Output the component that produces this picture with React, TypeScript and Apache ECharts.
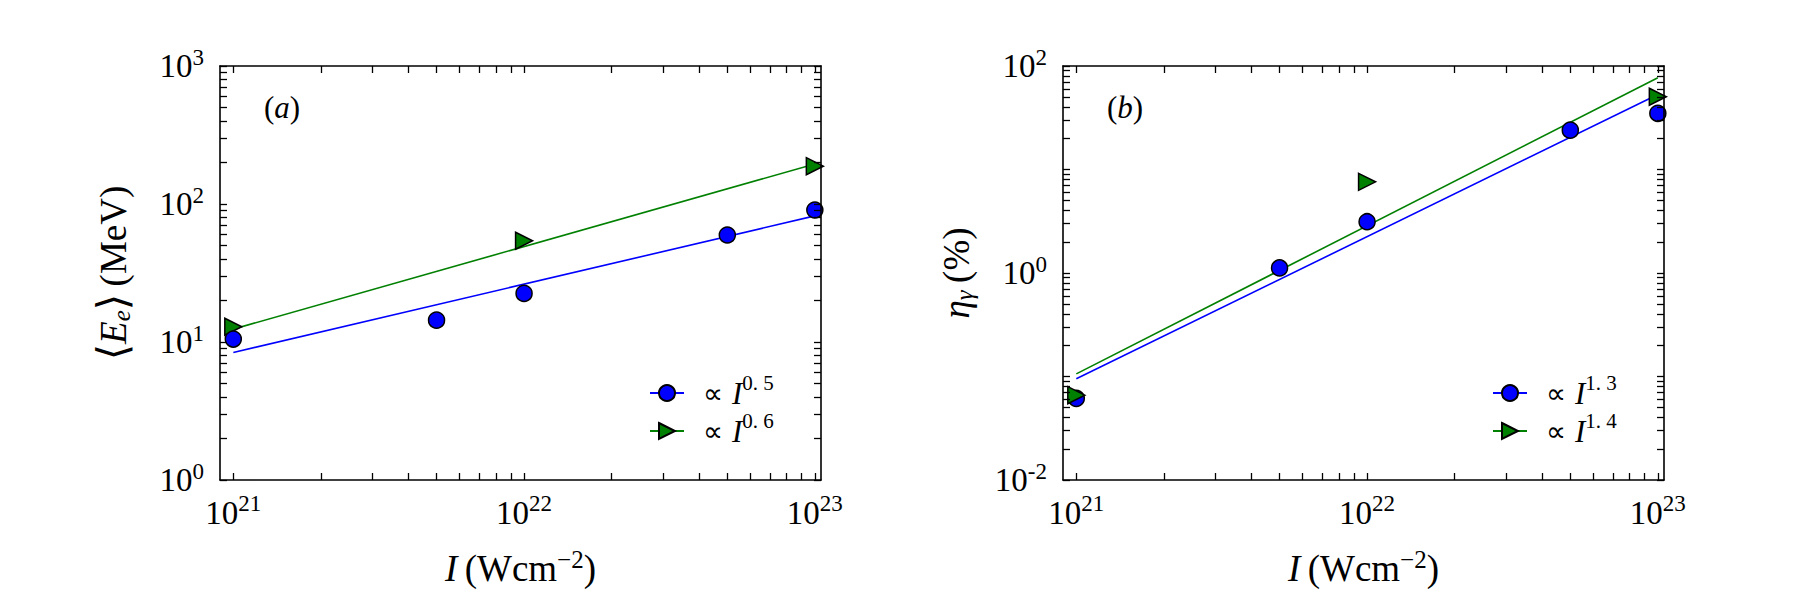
import { useEffect, useRef } from "react";
import * as echarts from "echarts";

// ---------------- data ----------------
const intensity = [1e21, 5e21, 1e22, 5e22, 1e23];
const triangleIntensity = [1e21, 1e22, 1e23];
const fitIntensity = [1e21, 1e23];

// panel (a): mean electron energy <E_e> (MeV)
const energyCircles = [10.5, 14.4, 22.5, 59.6, 90.5];
const energyTriangles = [12.9, 54.2, 188];
const energyFitBlue = [8.4, 82];
const energyFitGreen = [12.4, 195];

// panel (b): conversion efficiency eta_gamma (%)
const etaCircles = [0.0615, 1.12, 3.13, 24, 34.9];
const etaTriangles = [0.066, 7.6, 50.5];
const etaFitBlue = [0.095, 53];
const etaFitGreen = [0.106, 77];

// tick labels
const xLabelValues = [1e21, 1e22, 1e23];
const xLabelExponents = ["21", "22", "23"];
const yLabelValuesA = [1, 10, 100, 1000];
const yLabelExponentsA = ["0", "1", "2", "3"];
const yLabelValuesB = [0.01, 1, 100];
const yLabelExponentsB = ["-2", "0", "2"];

// legend texts
const legendNamesA = ["a1", "a2"];
const legendExponentsA = ["0.5", "0.6"];
const legendNamesB = ["b1", "b2"];
const legendExponentsB = ["1.3", "1.4"];
const panelTags = ["a", "b"];

// log tick positions: 1..9 x 10^e for each decade, plus the closing power
function logTicks(lowExp: number, highExp: number): number[] {
  const out: number[] = [];
  for (let e = lowExp; e < highExp; e++) {
    for (let m = 1; m <= 9; m++) out.push(parseFloat((m * Math.pow(10, e)).toPrecision(6)));
  }
  out.push(Math.pow(10, highExp));
  return out;
}
const xTickValues = logTicks(21, 23);
const yTickValuesA = logTicks(0, 3);
const yTickValuesB = logTicks(-2, 2);

// ---------------- styling ----------------
const SERIF = "'Liberation Serif', 'DejaVu Serif', serif";
const BLACK = "#000000";
const BLUE = "#0000ff";
const GREEN = "#008000";
const TRIANGLE = "path://M0,0L2,1L0,2Z";

const X_MIN = 9e20;
const X_MAX = 1.05e23;

const tickRich = {
  b: { fontFamily: SERIF, fontSize: 33, lineHeight: 41, color: BLACK },
  s: { fontFamily: SERIF, fontSize: 23, lineHeight: 23, verticalAlign: "top", color: BLACK },
};

const nameRich = {
  n: { fontFamily: SERIF, fontSize: 37, lineHeight: 42, color: BLACK },
  br: { fontFamily: SERIF, fontSize: 42, lineHeight: 42, color: BLACK },
  i: { fontFamily: SERIF, fontSize: 37, lineHeight: 42, fontStyle: "italic", color: BLACK },
  s: { fontFamily: SERIF, fontSize: 25, lineHeight: 26, verticalAlign: "top", color: BLACK },
  u: { fontFamily: SERIF, fontSize: 25, lineHeight: 26, verticalAlign: "bottom", fontStyle: "italic", color: BLACK },
};

const legendRich = {
  p: { fontFamily: "'DejaVu Sans', sans-serif", fontSize: 28, lineHeight: 42, color: BLACK, padding: [0, 0, 0, 14] },
  i: { fontFamily: SERIF, fontSize: 31, lineHeight: 42, fontStyle: "italic", color: BLACK },
  s: { fontFamily: SERIF, fontSize: 21, lineHeight: 21, verticalAlign: "top", color: BLACK },
};

const tagRich = {
  n: { fontFamily: SERIF, fontSize: 31, lineHeight: 36, color: BLACK },
  i: { fontFamily: SERIF, fontSize: 31, lineHeight: 36, fontStyle: "italic", color: BLACK },
};

function powerFormatter(values: number[], exps: string[]) {
  return (v: number) => {
    const i = values.findIndex((x) => Math.abs(Math.log10(x) - Math.log10(v)) < 1e-6);
    return i < 0 ? "" : `{b|10}{s|${exps[i]}}`;
  };
}

function xAxisDef(grid: number, position: "bottom" | "top", withLabels: boolean, name?: string) {
  return {
    type: "log",
    logBase: 10,
    gridIndex: grid,
    position,
    min: X_MIN,
    max: X_MAX,
    axisLine: { show: true, onZero: false, lineStyle: { color: BLACK, width: 1.6 } },
    axisTick: { show: true, inside: true, length: 7, lineStyle: { color: BLACK, width: 1.3 }, customValues: xTickValues },
    minorTick: { show: false },
    splitLine: { show: false },
    minorSplitLine: { show: false },
    axisLabel: withLabels
      ? { show: true, customValues: xLabelValues, formatter: powerFormatter(xLabelValues, xLabelExponents), margin: 12, rich: tickRich, color: BLACK }
      : { show: false },
    name: name || "",
    nameLocation: "middle",
    nameGap: 67,
    nameTextStyle: { rich: nameRich, color: BLACK },
    silent: true,
    z: 10,
  };
}

function yAxisDef(grid: number, position: "left" | "right", min: number, max: number, ticks: number[], labelValues: number[] | null, labelExps: string[] | null, name?: string) {
  return {
    type: "log",
    logBase: 10,
    gridIndex: grid,
    position,
    min,
    max,
    axisLine: { show: true, onZero: false, lineStyle: { color: BLACK, width: 1.6 } },
    axisTick: { show: true, inside: true, length: 7, lineStyle: { color: BLACK, width: 1.3 }, customValues: ticks },
    minorTick: { show: false },
    splitLine: { show: false },
    minorSplitLine: { show: false },
    axisLabel: labelValues && labelExps
      ? { show: true, customValues: labelValues, formatter: powerFormatter(labelValues, labelExps), margin: 16, rich: tickRich, color: BLACK }
      : { show: false },
    name: name || "",
    nameLocation: "middle",
    nameRotate: 90,
    nameGap: 86,
    nameTextStyle: { rich: nameRich, color: BLACK },
    silent: true,
    z: 10,
  };
}

function pairs(xs: number[], ys: number[]) {
  return xs.map((x, i) => [x, ys[i]]);
}

function fitSeries(name: string, xAxis: number, yAxis: number, xs: number[], ys: number[], color: string, symbol: string) {
  return {
    type: "line",
    name,
    xAxisIndex: xAxis,
    yAxisIndex: yAxis,
    data: pairs(xs, ys),
    showSymbol: false,
    symbol,
    symbolSize: 16,
    lineStyle: { color, width: 1.6 },
    itemStyle: { color, borderColor: BLACK, borderWidth: 1.5 },
    z: 2,
    silent: true,
  };
}

function pointSeries(name: string, xAxis: number, yAxis: number, xs: number[], ys: number[], color: string, symbol: string, size: number, z: number) {
  return {
    type: "scatter",
    name,
    xAxisIndex: xAxis,
    yAxisIndex: yAxis,
    data: pairs(xs, ys),
    symbol,
    symbolSize: size,
    itemStyle: { color, borderColor: BLACK, borderWidth: 1.5, opacity: 1 },
    z,
    silent: true,
  };
}

function legendDef(name: string, exp: string, left: number, top: number) {
  const shown = exp.replace(".", ". ");
  return {
    show: true,
    data: [name],
    orient: "vertical",
    left,
    top,
    padding: 0,
    itemWidth: 34,
    itemHeight: 20,
    selectedMode: false,
    formatter: () => `{p|\u221d }{i|I}{s|${shown}}`,
    textStyle: { rich: legendRich, color: BLACK },
  };
}

function tagText(tag: string, x: number) {
  return {
    type: "text",
    x,
    y: 107,
    style: {
      text: `{n|(}{i|${tag}}{n|)}`,
      rich: tagRich,
      align: "left",
      verticalAlign: "middle",
      fill: BLACK,
    },
  };
}

const X_NAME = "{i|I}{n|\u2009(Wcm}{s|\u22122}{n|)}";
const Y_NAME_A = "{br|\u27e8}{i|E}{u|e}{br|\u27e9}{n|\u2009(MeV)}";
const Y_NAME_B = "{i|\u03b7}{u|\u03b3}{n|\u2009(%)}";

export default function App() {
  const ref = useRef<HTMLDivElement>(null);

  useEffect(() => {
    if (!ref.current) return;
    const chart = echarts.init(ref.current, null, { renderer: "svg" });

    const gridA = { left: 220, top: 66, width: 601, height: 414, show: false, containLabel: false, outerBoundsMode: "none" };
    const gridB = { left: 1063, top: 66, width: 601, height: 414, show: false, containLabel: false, outerBoundsMode: "none" };

    const option: any = {
      animation: false,
      backgroundColor: "#ffffff",
      textStyle: { fontFamily: SERIF },
      grid: [gridA, gridB],
      xAxis: [
        xAxisDef(0, "bottom", true, X_NAME),
        xAxisDef(0, "top", false),
        xAxisDef(1, "bottom", true, X_NAME),
        xAxisDef(1, "top", false),
      ],
      yAxis: [
        yAxisDef(0, "left", 1, 1000, yTickValuesA, yLabelValuesA, yLabelExponentsA, Y_NAME_A),
        yAxisDef(0, "right", 1, 1000, yTickValuesA, null, null),
        yAxisDef(1, "left", 0.01, 100, yTickValuesB, yLabelValuesB, yLabelExponentsB, Y_NAME_B),
        yAxisDef(1, "right", 0.01, 100, yTickValuesB, null, null),
      ],
      legend: [
        legendDef(legendNamesA[0], legendExponentsA[0], 649, 372),
        legendDef(legendNamesA[1], legendExponentsA[1], 649, 410),
        legendDef(legendNamesB[0], legendExponentsB[0], 1492, 372),
        legendDef(legendNamesB[1], legendExponentsB[1], 1492, 410),
      ],
      series: [
        fitSeries(legendNamesA[0], 0, 0, fitIntensity, energyFitBlue, BLUE, "circle"),
        fitSeries(legendNamesA[1], 0, 0, fitIntensity, energyFitGreen, GREEN, TRIANGLE),
        pointSeries("energyTriangles", 0, 0, triangleIntensity, energyTriangles, GREEN, TRIANGLE, 17, 3),
        pointSeries("energyCircles", 0, 0, intensity, energyCircles, BLUE, "circle", 16, 4),
        fitSeries(legendNamesB[0], 2, 2, fitIntensity, etaFitBlue, BLUE, "circle"),
        fitSeries(legendNamesB[1], 2, 2, fitIntensity, etaFitGreen, GREEN, TRIANGLE),
        pointSeries("etaCircles", 2, 2, intensity, etaCircles, BLUE, "circle", 16, 3),
        pointSeries("etaTriangles", 2, 2, triangleIntensity, etaTriangles, GREEN, TRIANGLE, 17, 4),
      ],
      graphic: [tagText(panelTags[0], 264), tagText(panelTags[1], 1107)],
    };

    chart.setOption(option);
    return () => chart.dispose();
  }, []);

  return <div ref={ref} style={{ position: "absolute", left: 0, top: 0, width: 1800, height: 600 }} />;
}
